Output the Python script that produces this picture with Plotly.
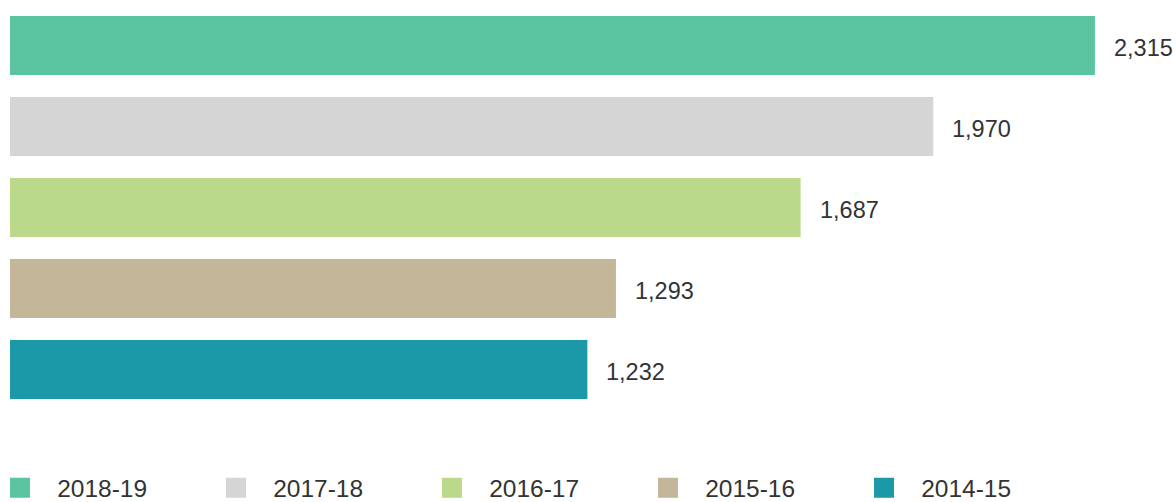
import plotly.graph_objects as go

years = ["2018-19", "2017-18", "2016-17", "2015-16", "2014-15"]
values = [2315, 1970, 1687, 1293, 1232]
colors = ["#5AC3A0", "#D6D5D6", "#BBD98A", "#C4B699", "#1B99A8"]

FONT = "Liberation Sans, Arial, sans-serif"

fig = go.Figure()
for yr, v, c in zip(years, values, colors):
    fig.add_trace(go.Bar(
        y=[yr], x=[v], orientation="h", name=yr,
        marker=dict(color=c, line=dict(width=0)),
        showlegend=False, legendgroup=yr,
        hoverinfo="x+y",
    ))
    fig.add_annotation(
        x=v, y=yr, text=f"{v:,}", showarrow=False,
        xanchor="left", yanchor="middle", xshift=17, yshift=-2,
        font=dict(family=FONT, size=23.5, color="#333333"),
    )

# legend entries with larger square swatches
for yr, c in zip(years, colors):
    fig.add_trace(go.Scatter(
        x=[None], y=[None], mode="markers", name="\u2002\u2009" + yr,
        legendgroup=yr,
        marker=dict(symbol="square", size=16, color=c, line=dict(color=c, width=4)),
        hoverinfo="skip",
    ))

fig.update_layout(
    width=1176, height=502,
    margin=dict(l=10, r=0, t=5, b=92, autoexpand=False),
    paper_bgcolor="white", plot_bgcolor="white",
    barmode="relative", bargap=0.27,
    xaxis=dict(range=[0, 2488], visible=False, fixedrange=True),
    yaxis=dict(visible=False, autorange="reversed", categoryorder="array",
               categoryarray=years, fixedrange=True),
    showlegend=True,
    legend=dict(
        orientation="h", x=-0.0086, xanchor="left", y=-0.192, yanchor="middle",
        font=dict(family=FONT, size=24.5, color="#333333"),
        entrywidth=171, entrywidthmode="pixels",
        traceorder="normal", itemclick=False, itemdoubleclick=False,
    ),
)

fig.write_html("out.html", post_script="document.body.style.margin='0';",
               config={"displayModeBar": False})
